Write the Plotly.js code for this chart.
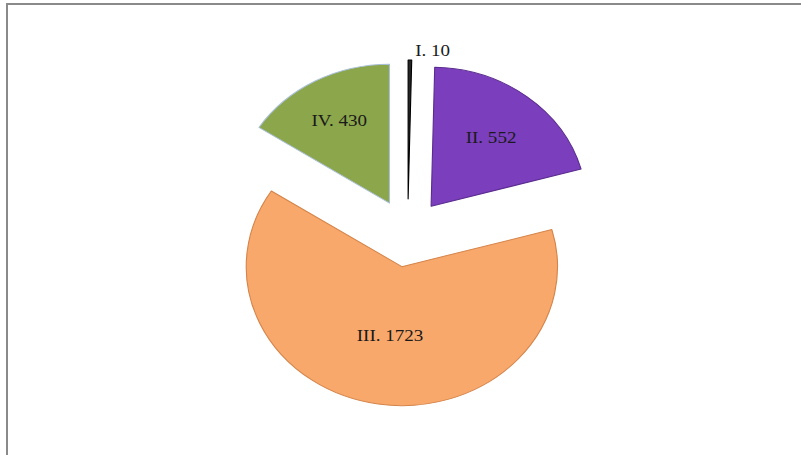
<!DOCTYPE html>
<html>
<head>
<meta charset="utf-8">
<script src="https://cdn.plot.ly/plotly-3.0.1.min.js"></script>
<style>
  html, body { margin: 0; padding: 0; background: #ffffff; overflow: hidden; }
  #wrap { position: relative; width: 801px; height: 455px; overflow: hidden; background: #fff; }
  #frame { position: absolute; left: 6px; top: 3px; width: 800px; height: 460px;
           border-left: 2px solid #8a8a8a; border-top: 2px solid #8a8a8a; box-sizing: border-box; z-index: 2; pointer-events: none; }
  #chart { position: absolute; left: 0; top: 0; width: 715px; height: 455px;
           transform: scaleX(1.12); transform-origin: 0 0; }
</style>
</head>
<body>
<div id="wrap">
  <div id="chart"></div>
  <div id="frame"></div>
</div>
<script>
// Data
var categories = ["I", "II", "III", "IV"];
var values = [10, 552, 1723, 430];
var sliceColors = ["#262626", "#7b3fbe", "#f9a86b", "#8ba64b"];
var edgeColors = ["#000000", "#5b2c8f", "#d4844a", "#a9bfd6"];
var textPositions = ["outside", "inside", "inside", "inside"];

var labelsText = categories.map(function (c, i) { return c + ". " + values[i]; });

var trace = {
  type: "pie",
  labels: categories,
  values: values,
  text: labelsText,
  textinfo: "text",
  textposition: textPositions,
  insidetextorientation: "horizontal",
  sort: false,
  direction: "clockwise",
  rotation: 0,
  pull: [0.245, 0.245, 0.245, 0.245],
  marker: { colors: sliceColors, line: { color: edgeColors, width: 1 } },
  textfont: { family: "Liberation Serif, serif", size: 17, color: "#1a1a1a" },
  outsidetextfont: { family: "Liberation Serif, serif", size: 17, color: "#1a1a1a" },
  hoverinfo: "none",
  showlegend: false
};

var layout = {
  width: 715,
  height: 455,
  margin: { l: 191, r: 178, t: 60, b: 49 },
  paper_bgcolor: "#ffffff",
  plot_bgcolor: "#ffffff",
  showlegend: false
};

Plotly.newPlot("chart", [trace], layout, { displayModeBar: false, staticPlot: true });
</script>
</body>
</html>
